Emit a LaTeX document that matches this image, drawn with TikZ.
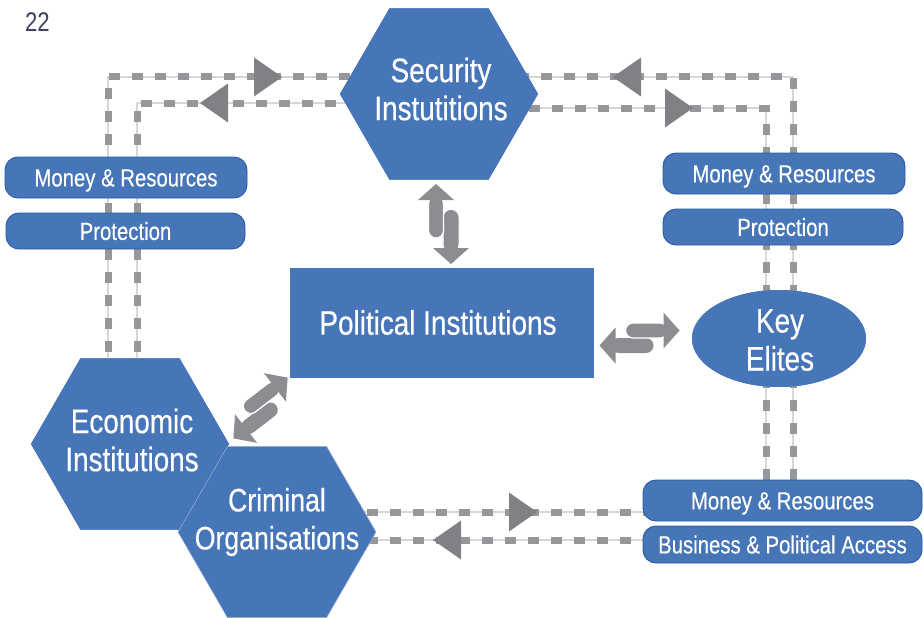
\documentclass[tikz,border=0pt]{standalone}
\usepackage{fontspec}
\setmainfont{Liberation Sans}[FakeStretch=0.82, FakeBold=0.4]
\newfontfamily\pagenumfont{Liberation Sans}[FakeStretch=0.82]
\usetikzlibrary{shapes.geometric}

\definecolor{nodeblue}{RGB}{70,117,184}
\definecolor{tagedge}{RGB}{40,90,165}
\definecolor{dashgray}{RGB}{150,150,155}
\definecolor{rulegray}{RGB}{215,215,215}
\definecolor{headgray}{RGB}{128,129,133}
\definecolor{swapgray}{RGB}{140,141,145}
\definecolor{numcolor}{RGB}{60,66,100}

\tikzset{
  hexa/.style={regular polygon, regular polygon sides=6, minimum size=198pt,
    inner sep=0pt, outer sep=0pt, fill=nodeblue},
  big/.style={text=white, align=center, font=\fontsize{34}{38}\selectfont, inner sep=0pt},
  tag/.style={fill=nodeblue, draw=tagedge, line width=0.9pt, rounded corners=13pt,
    text=white, font=\fontsize{24.8}{26}\selectfont, inner sep=0pt,
    text height=17.8pt, text depth=0pt},
  flow/.style={draw=dashgray, line width=7pt, dash pattern=on 11pt off 12pt,
    preaction={draw=rulegray, line width=1.5pt, solid}},
  pics/flowhead/.style={code={
    \fill[headgray] (0,0) -- (-28,-19.5) -- (-28,19.5) -- cycle;
  }},
  pics/swap/.style={code={
    % arrow running backwards, on the right-hand side
    \fill[swapgray, rounded corners=7.4pt] (14,0) rectangle (-28,15);
    \fill[swapgray] (-24,-10.5) -- (-40,7.5) -- (-24,25.5) -- cycle;
    % arrow running forwards, on the left-hand side
    \filldraw[swapgray, draw=white, line width=1.3pt, rounded corners=7.4pt] (-14,-15) rectangle (28,0);
    \fill[swapgray] (24,-25.5) -- (40,-7.5) -- (24,10.5) -- cycle;
  }}
}

\begin{document}
\begin{tikzpicture}[x=1pt,y=-1pt]
\useasboundingbox (0,0) rectangle (924,618);
\fill[white] (0,0) rectangle (924,618);

% main shapes (placed first so connectors can refer to them)
\node[hexa] (sec) at (439,94) {};
\node[hexa] (econ) at (130,444) {};
\node[rectangle, fill=nodeblue, minimum width=304pt, minimum height=110pt,
      inner sep=0pt] (pol) at (442,322.5) {};
\node[ellipse, fill=nodeblue, minimum width=174pt, minimum height=97pt,
      inner sep=0pt] (elite) at (779,338.5) {};

% corner points of the flow routes
\coordinate (tlo) at (108,77);
\coordinate (tli) at (137,103);
\coordinate (tro) at (793,77);
\coordinate (tri) at (766,108);
\coordinate (bro) at (660,512);
\coordinate (bri) at (660,540);
\coordinate (brtop) at (780,480);

% flow routes (drawn beneath the shapes)
\draw[flow] (econ.center -| tlo) -- (tlo) -- (tlo -| sec.center);
\draw[flow] (econ.center -| tli) -- (tli) -- (tli -| sec.center);
\draw[flow] (brtop -| tro) -- (tro) -- (tro -| sec.center);
\draw[flow] (brtop -| tri) -- (tri) -- (tri -| sec.center);
\draw[flow] (bro -| econ.east) -- (bro);
\draw[flow] (bri -| econ.east) -- (bri);

% direction marks on the routes
\pic at (282,77) {flowhead};
\pic[rotate=180] at (200,103) {flowhead};
\pic[rotate=180] at (613,77) {flowhead};
\pic at (693,108) {flowhead};
\pic at (537,512) {flowhead};
\pic[rotate=180] at (433,540) {flowhead};

% redraw shapes over the routes
\node[hexa] (sec2) at (sec) {};
\node[hexa] (econ2) at (econ) {};
\node[hexa, draw=nodeblue!55!white, line width=0.5pt] (crim) at (277,532) {};
\node[rectangle, fill=nodeblue, minimum width=304pt, minimum height=110pt,
      inner sep=0pt] (pol2) at (pol) {};
\node[ellipse, fill=nodeblue, minimum width=174pt, minimum height=97pt,
      inner sep=0pt] (elite2) at (elite) {};

% shape texts
\node[big] (sec-t) at (441,89) {Security\\Instutitions};
\node[big] (econ-t) at (132,440) {Economic\\Institutions};
\node[big, font=\fontsize{32.5}{38}\selectfont] (crim-t) at (277,522) {Criminal\\Organisations};
\node[big] (pol-t) at (438,322.5) {Political Institutions};
\node[big] (elite-t) at (780,340) {Key\\Elites};

% page number
\node[text=numcolor, font=\pagenumfont\fontsize{27}{30}\selectfont, inner sep=0pt] (pg) at (37.5,22) {22};

% route labels
\node[tag, minimum width=242pt, minimum height=41pt] (lmoney) at (126,177.5) {Money \& Resources};
\node[tag, minimum width=239pt, minimum height=36pt] (lprot) at (125.5,231) {Protection};
\node[tag, minimum width=242pt, minimum height=41pt] (rmoney) at (784,173.5) {Money \& Resources};
\node[tag, minimum width=240pt, minimum height=36pt] (rprot) at (783,227) {Protection};
\node[tag, minimum width=279pt, minimum height=41pt] (bmoney) at (782.5,500.5) {Money \& Resources};
\node[tag, minimum width=279pt, minimum height=37pt] (baccess) at (782.5,544.5) {Business \& Political Access};

% two-way exchange arrows
\pic[rotate=90] at (443.5,224) {swap};
\pic at (639.5,338) {swap};
\pic[rotate=37.6] at (260.5,408) {swap};
\end{tikzpicture}
\end{document}
